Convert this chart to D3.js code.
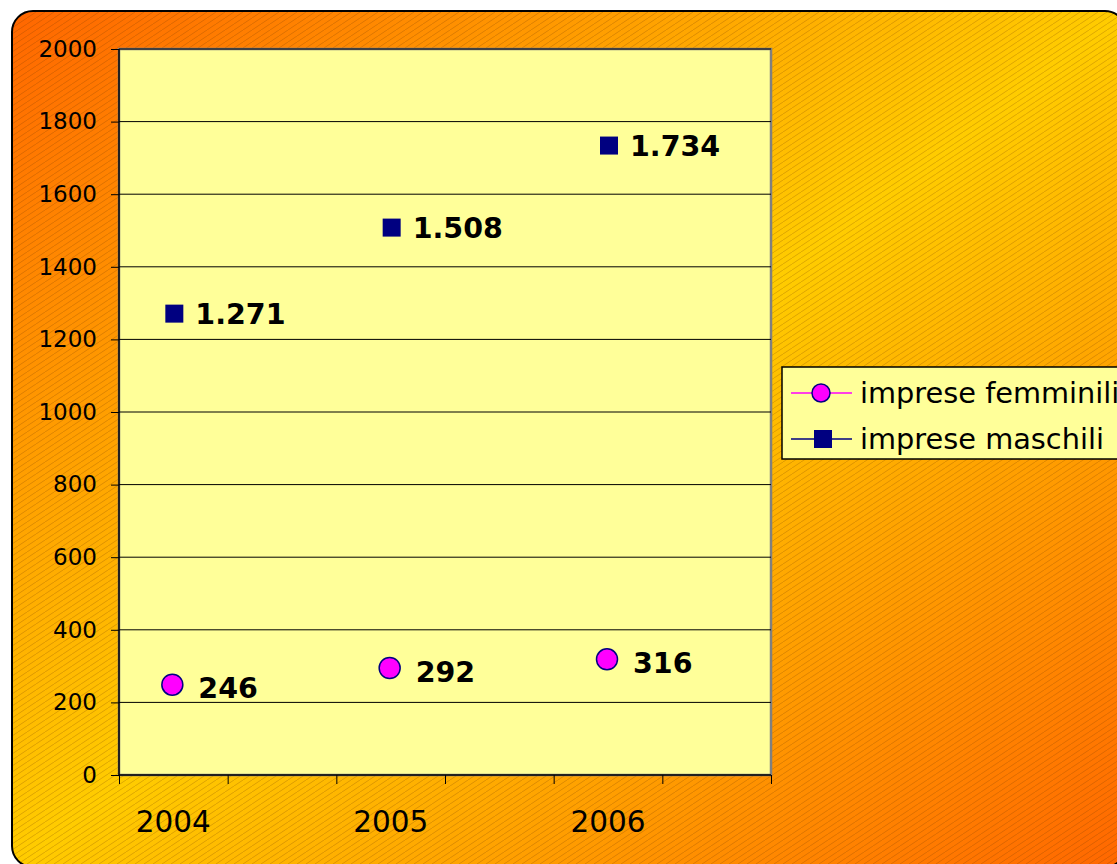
<!DOCTYPE html>
<html>
<head>
<meta charset="utf-8">
<script src="https://cdn.jsdelivr.net/npm/d3@7"></script>
<style>
html,body{margin:0;padding:0;background:#fff;}
svg{display:block;}
</style>
</head>
<body>
<svg id="chart" width="1117" height="864"></svg>
<script>
// ---- data ----
const categories = ["2004", "2005", "2006"];
const femminili = [246, 292, 316];
const maschili = [1271, 1508, 1734];
const seriesNames = ["imprese femminili", "imprese maschili"];
const yTicks = [0, 200, 400, 600, 800, 1000, 1200, 1400, 1600, 1800, 2000];

(function () {
const svg = d3.select("#chart");
const defs = svg.append("defs");

const grad = defs.append("linearGradient").attr("id", "bg")
  .attr("x1", 0).attr("y1", 0).attr("x2", 1).attr("y2", 1);
grad.append("stop").attr("offset", 0).attr("stop-color", "#FF6600");
grad.append("stop").attr("offset", 0.5).attr("stop-color", "#FFCC00");
grad.append("stop").attr("offset", 1).attr("stop-color", "#FF6600");

const pat = defs.append("pattern").attr("id", "hatch")
  .attr("patternUnits", "userSpaceOnUse").attr("width", 9).attr("height", 6);
pat.append("path").attr("d", "M-1.5,7 L10.5,-1")
  .attr("stroke", "rgba(110,50,0,0.26)").attr("stroke-width", 0.9);

// background frame
svg.append("rect").attr("x", 12).attr("y", 11).attr("width", 1114).attr("height", 856)
  .attr("rx", 21).attr("fill", "url(#bg)");
svg.append("rect").attr("x", 12).attr("y", 11).attr("width", 1114).attr("height", 856)
  .attr("rx", 21).attr("fill", "url(#hatch)").attr("stroke", "#000").attr("stroke-width", 2);

// plot area
const pL = 119, pR = 771, pT = 49, pB = 775;
svg.append("rect").attr("x", pL).attr("y", pT).attr("width", pR - pL).attr("height", pB - pT)
  .attr("fill", "#FFFF99").attr("stroke", "#808080").attr("stroke-width", 2.5);

const y = d3.scaleLinear().domain([0, 2000]).range([pB, pT]);
const slots = d3.range(categories.length * 2);
const xSub = d3.scaleBand().domain(slots).range([pL, pR]);
const xCat = c => xSub(categories.indexOf(c) * 2) + xSub.bandwidth() / 2;
const xLin = d3.scaleLinear().domain([0, slots.length]).range([pL, pR]);

// gridlines
svg.append("g").selectAll("line").data(yTicks.filter(v => v > 0)).join("line")
  .attr("x1", pL).attr("x2", pR).attr("y1", d => y(d)).attr("y2", d => y(d))
  .attr("stroke", "#000").attr("stroke-width", 1);

// y axis
const yAxis = svg.append("g").attr("transform", `translate(${pL},0)`)
  .call(d3.axisLeft(y).tickValues(yTicks).tickSize(8).tickPadding(14).tickFormat(d3.format("d")));
yAxis.select(".domain").attr("stroke", "#000").attr("stroke-width", 1.5).attr("d", `M0,${pT}V${pB}`);
yAxis.selectAll(".tick line").attr("stroke", "#000");
yAxis.selectAll("text").attr("font-family", "DejaVu Sans, Verdana, sans-serif").attr("font-size", 23).attr("fill", "#000");

// x axis
const xAxis = svg.append("g").attr("transform", `translate(0,${pB})`)
  .call(d3.axisBottom(xLin).tickValues(d3.range(slots.length + 1)).tickSize(9).tickFormat(""));
xAxis.select(".domain").attr("stroke", "#000").attr("stroke-width", 1.5).attr("d", `M${pL},0H${pR}`);
xAxis.selectAll(".tick line").attr("stroke", "#000");
svg.append("g").selectAll("text").data(categories).join("text")
  .attr("x", d => xCat(d)).attr("y", 832).attr("text-anchor", "middle")
  .attr("font-family", "DejaVu Sans, Verdana, sans-serif").attr("font-size", 29.5).attr("fill", "#000")
  .text(d => d);

const it = d3.formatLocale({decimal: ",", thousands: ".", grouping: [3], currency: ["€", ""]});
const fmt = it.format(",d");
const labelFont = "DejaVu Sans, Verdana, sans-serif";

// maschili squares
const sq = 18;
const gM = svg.append("g");
gM.selectAll("rect").data(maschili).join("rect")
  .attr("x", (d, i) => xCat(categories[i]) + 1 - sq / 2).attr("y", d => y(d) - sq / 2)
  .attr("width", sq).attr("height", sq).attr("fill", "#000080");
gM.selectAll("text").data(maschili).join("text")
  .attr("x", (d, i) => xCat(categories[i]) + 22).attr("y", d => y(d) + 1)
  .attr("dominant-baseline", "central")
  .attr("font-family", labelFont).attr("font-weight", "bold").attr("font-size", 28.5).attr("fill", "#000")
  .text(d => fmt(d));

// femminili circles
const gF = svg.append("g");
gF.selectAll("circle").data(femminili).join("circle")
  .attr("cx", (d, i) => xCat(categories[i]) - 1).attr("cy", d => y(d) - 1)
  .attr("r", 10.5).attr("fill", "#FF00FF").attr("stroke", "#000080").attr("stroke-width", 1.5);
gF.selectAll("text").data(femminili).join("text")
  .attr("x", (d, i) => xCat(categories[i]) + 25).attr("y", d => y(d) + 3)
  .attr("dominant-baseline", "central")
  .attr("font-family", labelFont).attr("font-weight", "bold").attr("font-size", 28.5).attr("fill", "#000")
  .text(d => fmt(d));

// legend
const lg = svg.append("g");
lg.append("rect").attr("x", 782).attr("y", 367).attr("width", 360).attr("height", 92)
  .attr("fill", "#FFFF99").attr("stroke", "#000").attr("stroke-width", 1.5);
const rows = [393, 439];
const lineColors = ["#FF00FF", "#000080"];
seriesNames.forEach((name, i) => {
  const ry = rows[i];
  lg.append("line").attr("x1", 791).attr("x2", 852).attr("y1", ry).attr("y2", ry)
    .attr("stroke", lineColors[i]).attr("stroke-width", 1.5);
  if (i === 0) {
    lg.append("circle").attr("cx", 821).attr("cy", ry).attr("r", 9)
      .attr("fill", "#FF00FF").attr("stroke", "#000080").attr("stroke-width", 1.5);
  } else {
    lg.append("rect").attr("x", 814).attr("y", ry - 9).attr("width", 18).attr("height", 18).attr("fill", "#000080");
  }
  lg.append("text").attr("x", 860).attr("y", ry).attr("dominant-baseline", "central")
    .attr("font-family", labelFont).attr("font-size", 28.8).attr("fill", "#000").text(name);
});
})();
</script>
</body>
</html>
